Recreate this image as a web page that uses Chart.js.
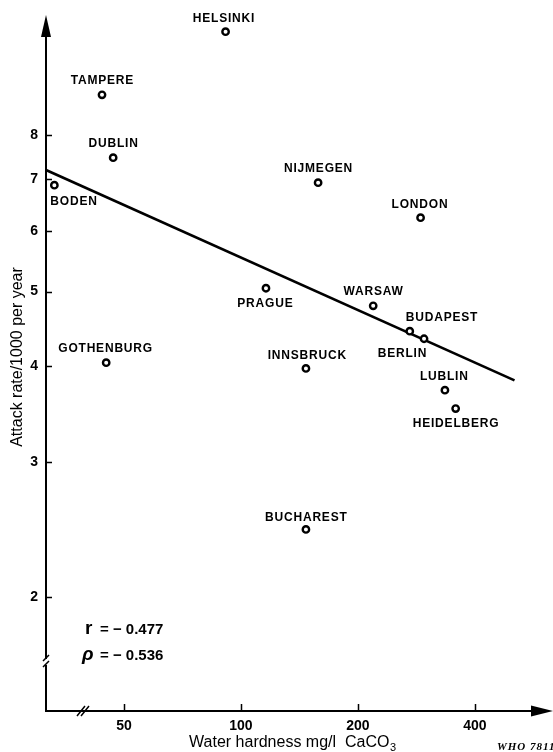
<!DOCTYPE html>
<html><head><meta charset="utf-8">
<script src="https://cdn.jsdelivr.net/npm/chart.js@4"></script>
<style>html,body{margin:0;padding:0;background:#fff;} #wrap{width:553px;height:752px;position:relative;}</style>
</head><body><div id="wrap"><canvas id="c"></canvas></div>
<script>
const cities = ['HELSINKI','TAMPERE','DUBLIN','BODEN','NIJMEGEN','LONDON','PRAGUE','WARSAW','BUDAPEST','BERLIN','GOTHENBURG','INNSBRUCK','LUBLIN','HEIDELBERG','BUCHAREST'];
const hardness = [91.3, 43.9, 46.9, 33.1, 158, 290, 116, 219, 272, 296, 45.0, 147, 335, 357, 147];
const attackRate = [10.9, 9.02, 7.47, 6.88, 6.93, 6.24, 5.05, 4.79, 4.44, 4.34, 4.04, 3.97, 3.72, 3.52, 2.45];
const fitHardness = [31.5, 506];
const fitRate = [7.20, 3.83];
const xTicks = [50, 100, 200, 400];
const yTicks = [2, 3, 4, 5, 6, 7, 8];
const xTitle = 'Water hardness mg/l  CaCO';
const xTitleSub = '3';
const yTitle = 'Attack rate/1000 per year';
const statSymbols = ['r', 'ρ'];
const statValues = ['= − 0.477', '= − 0.536'];
const footnote = 'WHO 78111';

const FONT = '"Liberation Sans", Arial, Helvetica, sans-serif';
Chart.defaults.font.family = FONT;
Chart.defaults.color = '#000';

// label placement (style only): [dx, dy, align]
const placement = {
  HELSINKI: [-2, -13, 'center'], TAMPERE: [0, -14, 'center'], DUBLIN: [0, -14, 'center'],
  BODEN: [-4, 17, 'left'], NIJMEGEN: [0, -14, 'center'], LONDON: [-1, -13, 'center'],
  PRAGUE: [-1, 15, 'center'], WARSAW: [0, -14, 'center'], BUDAPEST: [-4, -13, 'left'],
  BERLIN: [-22, 15, 'center'], GOTHENBURG: [-1, -14, 'center'], INNSBRUCK: [1, -13, 'center'],
  LUBLIN: [-1, -13, 'center'], HEIDELBERG: [0, 15, 'center'], BUCHAREST: [0, -12, 'center']
};

const decor = {
  id: 'decor',
  afterDatasetsDraw(chart) {
    const ctx = chart.ctx;
    const a = chart.chartArea;
    const xs = chart.scales.x, ys = chart.scales.y;
    const L = Math.round(a.left), B = Math.round(a.bottom);
    ctx.save();
    ctx.strokeStyle = '#000';
    ctx.fillStyle = '#000';
    ctx.lineCap = 'butt';
    // y axis line with break
    ctx.lineWidth = 2;
    ctx.beginPath();
    ctx.moveTo(L, 30); ctx.lineTo(L, 659);
    ctx.moveTo(L, 665); ctx.lineTo(L, B + 1);
    ctx.stroke();
    ctx.lineWidth = 1.5;
    ctx.beginPath();
    ctx.moveTo(L - 3, 661); ctx.lineTo(L + 3, 655);
    ctx.moveTo(L - 3, 667); ctx.lineTo(L + 3, 661);
    ctx.stroke();
    // y arrow
    ctx.beginPath();
    ctx.moveTo(L, 15); ctx.lineTo(L - 5, 37); ctx.lineTo(L + 5, 37); ctx.closePath(); ctx.fill();
    // x axis line
    ctx.lineWidth = 2;
    ctx.beginPath();
    ctx.moveTo(L - 1, B); ctx.lineTo(540, B);
    ctx.stroke();
    // x break
    ctx.lineWidth = 1.5;
    ctx.beginPath();
    ctx.moveTo(77, B + 5); ctx.lineTo(85, B - 5);
    ctx.moveTo(81, B + 5); ctx.lineTo(89, B - 5);
    ctx.stroke();
    // x arrow
    ctx.beginPath();
    ctx.moveTo(553, B); ctx.lineTo(531, B - 5.5); ctx.lineTo(531, B + 5.5); ctx.closePath(); ctx.fill();
    // tick marks (inward)
    ctx.lineWidth = 1.5;
    ctx.beginPath();
    yTicks.forEach(v => { const y = Math.round(ys.getPixelForValue(v)) + 0.5; ctx.moveTo(L, y); ctx.lineTo(L + 6, y); });
    xTicks.forEach(v => { const x = Math.round(xs.getPixelForValue(v)) + 0.5; ctx.moveTo(x, B); ctx.lineTo(x, B - 7); });
    ctx.stroke();

    // city labels
    const meta = chart.getDatasetMeta(0);
    ctx.font = 'bold 12px ' + FONT;
    ctx.letterSpacing = '0.8px';
    ctx.textBaseline = 'middle';
    meta.data.forEach((pt, i) => {
      const p = placement[cities[i]] || [0, -13, 'center'];
      ctx.textAlign = p[2];
      ctx.fillText(cities[i], pt.x + p[0] + (p[2] === 'center' ? 0.4 : 0), pt.y + p[1]);
    });
    ctx.letterSpacing = '0px';

    // stats
    ctx.textAlign = 'left';
    ctx.textBaseline = 'alphabetic';
    ctx.font = 'bold 19px ' + FONT;
    ctx.fillText(statSymbols[0], 85, 634);
    ctx.font = 'bold italic 19px ' + FONT;
    ctx.fillText(statSymbols[1], 82, 660);
    ctx.font = 'bold 15px ' + FONT;
    ctx.fillText(statValues[0], 100, 634);
    ctx.fillText(statValues[1], 100, 660);

    // x title
    ctx.font = '16px ' + FONT;
    const w1 = ctx.measureText(xTitle).width;
    ctx.font = '11px ' + FONT;
    const w2 = ctx.measureText(xTitleSub).width;
    const cx = (a.left + a.right) / 2 - 4;
    const sx = cx - (w1 + w2) / 2;
    ctx.font = '16px ' + FONT;
    ctx.fillText(xTitle, sx, 747);
    ctx.font = '11px ' + FONT;
    ctx.fillText(xTitleSub, sx + w1 + 0.5, 751);

    // y title
    ctx.save();
    ctx.translate(22, 357);
    ctx.rotate(-Math.PI / 2);
    ctx.textAlign = 'center';
    ctx.font = '16px ' + FONT;
    ctx.fillText(yTitle, 0, 0);
    ctx.restore();

    // footnote
    ctx.font = 'bold italic 11px "Liberation Serif", "Times New Roman", serif';
    ctx.letterSpacing = '1px';
    ctx.fillText(footnote, 497, 750);
    ctx.letterSpacing = '0px';
    ctx.restore();
  }
};

new Chart(document.getElementById('c'), {
  data: {
    datasets: [
      {
        type: 'scatter',
        data: cities.map((c, i) => ({ x: hardness[i], y: attackRate[i] })),
        pointRadius: 3.2,
        pointBorderWidth: 2.4,
        borderColor: '#000',
        backgroundColor: '#fff',
        pointBackgroundColor: '#fff',
        pointBorderColor: '#000',
        order: 0,
        clip: false
      },
      {
        type: 'line',
        data: fitHardness.map((x, i) => ({ x: x, y: fitRate[i] })),
        borderColor: '#000',
        borderWidth: 2.6,
        pointRadius: 0,
        fill: false,
        order: 1
      }
    ]
  },
  options: {
    responsive: true,
    maintainAspectRatio: false,
    animation: false,
    events: [],
    layout: { padding: { top: 20, right: 5, left: 0, bottom: 0 } },
    plugins: { legend: { display: false }, tooltip: { enabled: false }, title: { display: false } },
    scales: {
      x: {
        type: 'logarithmic',
        position: 'bottom',
        min: 31.5, max: 612,
        bounds: 'data',
        grid: { display: false, drawTicks: false },
        border: { display: false },
        afterBuildTicks: s => { s.ticks = xTicks.map(v => ({ value: v })); },
        afterFit: s => { s.height = 41; },
        ticks: { autoSkip: false, maxRotation: 0, padding: 7, font: { size: 14, weight: 'bold' }, color: '#000', callback: v => String(v) }
      },
      y: {
        type: 'logarithmic',
        position: 'left',
        min: 1.421, max: 11.29,
        bounds: 'data',
        grid: { display: false, drawTicks: false },
        border: { display: false },
        afterBuildTicks: s => { s.ticks = yTicks.map(v => ({ value: v })); },
        afterFit: s => { s.width = 46; },
        ticks: { autoSkip: false, padding: 8, font: { size: 14, weight: 'bold' }, color: '#000', callback: v => String(v) }
      }
    }
  },
  plugins: [decor]
});
</script>
</body></html>
